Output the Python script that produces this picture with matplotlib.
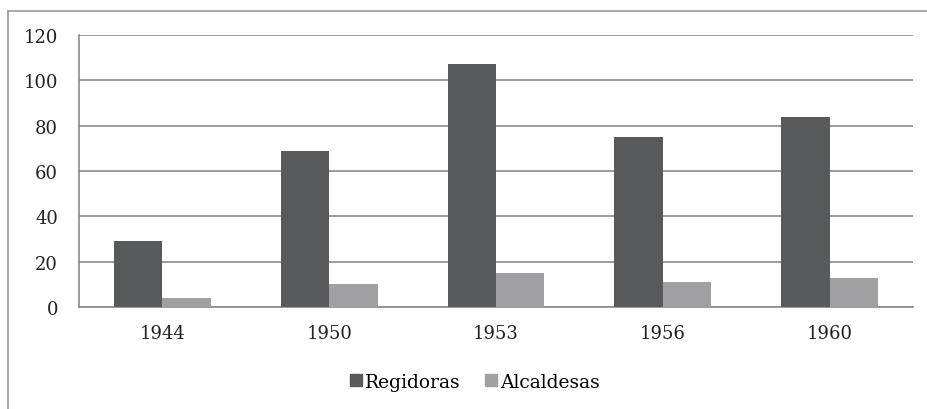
import matplotlib.pyplot as plt
import numpy as np
from matplotlib.lines import Line2D

# datos
years = ['1944', '1950', '1953', '1956', '1960']
regidoras = [29, 69, 107, 75, 84]
alcaldesas = [4, 10, 15, 11, 13]

plt.rcParams['font.family'] = ['DejaVu Serif']

W, H = 928, 410
fig = plt.figure(figsize=(W / 100, H / 100), dpi=100)
ax = fig.add_axes([79 / W, 1 - 308 / H, (913 - 79) / W, (308 - 36) / H])

x = np.arange(len(years))
bw = 0.29
ax.bar(x - bw / 2, regidoras, bw, color='#58595b', label='Regidoras', zorder=3)
ax.bar(x + bw / 2, alcaldesas, bw, color='#a0a0a2', label='Alcaldesas', zorder=3)

ax.set_xlim(-0.5, len(years) - 0.5)
ax.set_ylim(0, 120)
ax.set_yticks(range(0, 121, 20))
ax.set_xticks(x)
ax.set_xticklabels(years)
ax.yaxis.grid(True, color='#8a8a8a', linewidth=1.2, zorder=0)
ax.tick_params(length=0, labelsize=13, colors='#222222')
ax.tick_params(axis='y', pad=15)
ax.tick_params(axis='x', pad=12)

for s in ['top', 'right']:
    ax.spines[s].set_visible(False)
for s in ['left', 'bottom']:
    ax.spines[s].set_color('#8a8a8a')
    ax.spines[s].set_linewidth(1.2)

# leyenda abajo
handles = [Line2D([], [], marker='s', linestyle='', markersize=9, color=c)
           for c in ['#58595b', '#a0a0a2']]
fig.legend(handles, ['Regidoras', 'Alcaldesas'], loc='center', ncol=2,
           bbox_to_anchor=(474 / W, 1 - 383 / H), frameon=False, fontsize=13.5,
           handletextpad=0.1, columnspacing=1.2, handlelength=0.8)

# marco exterior
fig.add_artist(Line2D([8 / W, 1], [1 - 12 / H, 1 - 12 / H], color='#999999', lw=1.2))
fig.add_artist(Line2D([8 / W, 8 / W], [0, 1 - 12 / H], color='#999999', lw=1.2))

fig.savefig('out.png', dpi=100)
